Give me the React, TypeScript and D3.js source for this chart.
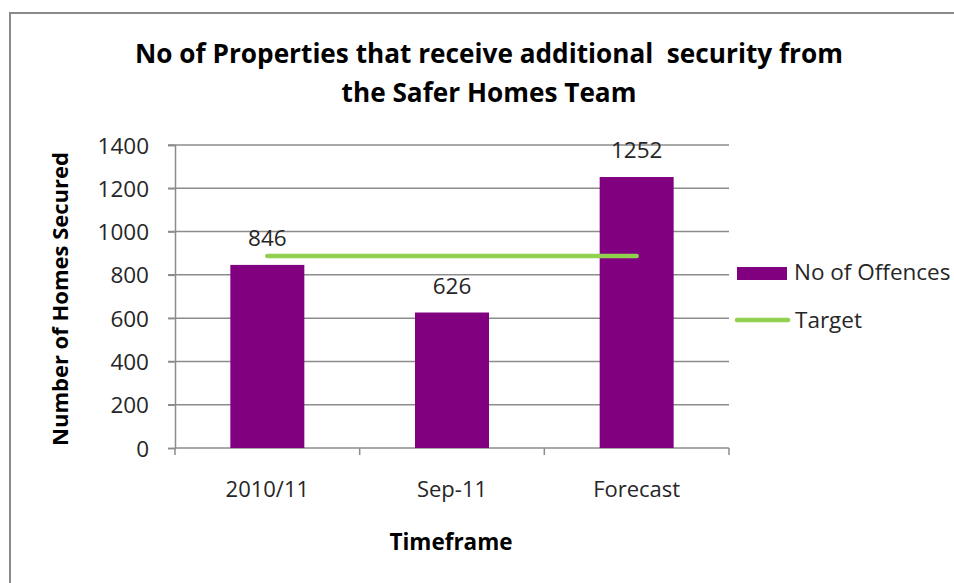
import React, { useEffect, useRef } from 'react';
import * as d3 from 'd3';

// chart data
const categories = ['2010/11', 'Sep-11', 'Forecast'];
const offences = [846, 626, 1252];
const target = [887, 887, 887];
const yTicks = [0, 200, 400, 600, 800, 1000, 1200, 1400];

const FONT = '"Open Sans", sans-serif';

const App = () => {
  const ref = useRef<SVGSVGElement>(null);

  useEffect(() => {
    const root = d3.select(ref.current);
    root.selectAll('*').remove();

    const plot = { left: 175, right: 729, top: 145, bottom: 448 };

    // outer chart border
    root
      .append('rect')
      .attr('x', 10)
      .attr('y', 13)
      .attr('width', 960)
      .attr('height', 600)
      .attr('fill', 'white')
      .attr('stroke', '#8a8a8a')
      .attr('stroke-width', 2);

    const x = d3.scaleBand().domain(categories).range([plot.left, plot.right]);
    const y = d3.scaleLinear().domain([0, 1400]).range([plot.bottom, plot.top]);

    // gridlines
    root
      .append('g')
      .selectAll('line')
      .data(yTicks.filter(d => d > 0))
      .enter()
      .append('line')
      .attr('x1', plot.left - 7)
      .attr('x2', plot.right)
      .attr('y1', d => y(d))
      .attr('y2', d => y(d))
      .attr('stroke', '#8c8c8c')
      .attr('stroke-width', 1.5);

    // y axis
    const yAxis = root
      .append('g')
      .attr('transform', `translate(${plot.left},0)`)
      .call(d3.axisLeft(y).tickValues(yTicks).tickFormat(d3.format('d')).tickSize(7));
    yAxis.select('.domain').attr('stroke', '#8c8c8c').attr('stroke-width', 1.5);
    yAxis.selectAll('.tick line').attr('stroke', '#8c8c8c').attr('stroke-width', 1.5);
    yAxis
      .selectAll('.tick text')
      .attr('font-family', FONT)
      .attr('font-size', 22.5)
      .attr('fill', '#262626')
      .attr('x', -26)
      .attr('dy', '0.36em');

    // x axis, ticks between categories
    const xg = root.append('g');
    xg.append('line')
      .attr('x1', plot.left)
      .attr('x2', plot.right)
      .attr('y1', plot.bottom)
      .attr('y2', plot.bottom)
      .attr('stroke', '#8c8c8c')
      .attr('stroke-width', 1.5);
    const boundaries = categories.map(c => x(c) as number).concat([plot.right]);
    xg.selectAll('.xtick')
      .data(boundaries)
      .enter()
      .append('line')
      .attr('x1', d => d)
      .attr('x2', d => d)
      .attr('y1', plot.bottom)
      .attr('y2', plot.bottom + 7)
      .attr('stroke', '#8c8c8c')
      .attr('stroke-width', 1.5);
    xg.selectAll('.xlabel')
      .data(categories)
      .enter()
      .append('text')
      .attr('x', d => (x(d) as number) + x.bandwidth() / 2)
      .attr('y', 497)
      .attr('text-anchor', 'middle')
      .attr('font-family', FONT)
      .attr('font-size', 22)
      .attr('fill', '#262626')
      .text(d => d);

    // bars
    const barW = 74;
    root
      .selectAll('.bar')
      .data(offences)
      .enter()
      .append('rect')
      .attr('class', 'bar')
      .attr('x', (d, i) => (x(categories[i]) as number) + x.bandwidth() / 2 - barW / 2)
      .attr('y', d => y(d))
      .attr('width', barW)
      .attr('height', d => plot.bottom - y(d))
      .attr('fill', '#800080');

    // target line
    const line = d3
      .line<number>()
      .x((d, i) => (x(categories[i]) as number) + x.bandwidth() / 2)
      .y(d => y(d));
    root
      .append('path')
      .datum(target)
      .attr('d', line)
      .attr('fill', 'none')
      .attr('stroke', '#92d050')
      .attr('stroke-width', 4.5)
      .attr('stroke-linecap', 'round');

    // value labels
    root
      .selectAll('.label')
      .data(offences)
      .enter()
      .append('text')
      .attr('x', (d, i) => (x(categories[i]) as number) + x.bandwidth() / 2)
      .attr('y', d => y(d) - 19)
      .attr('text-anchor', 'middle')
      .attr('font-family', FONT)
      .attr('font-size', 22.5)
      .attr('fill', '#262626')
      .text(d => d);

    // title
    const title = root
      .append('text')
      .attr('text-anchor', 'middle')
      .attr('font-family', FONT)
      .attr('font-weight', 'bold')
      .attr('font-size', 26.2)
      .attr('fill', '#000')
      .attr('xml:space', 'preserve');
    title.append('tspan').attr('x', 489).attr('y', 63).text('No of Properties that receive additional  security from');
    title.append('tspan').attr('x', 489).attr('y', 102).text('the Safer Homes Team');

    // axis titles
    root
      .append('text')
      .attr('transform', `translate(68,299) rotate(-90)`)
      .attr('text-anchor', 'middle')
      .attr('font-family', FONT)
      .attr('font-weight', 'bold')
      .attr('font-size', 22)
      .attr('fill', '#000')
      .text('Number of Homes Secured');

    root
      .append('text')
      .attr('x', 451)
      .attr('y', 550)
      .attr('text-anchor', 'middle')
      .attr('font-family', FONT)
      .attr('font-weight', 'bold')
      .attr('font-size', 22.5)
      .attr('fill', '#000')
      .text('Timeframe');

    // legend
    const legend = root.append('g');
    legend
      .append('rect')
      .attr('x', 737)
      .attr('y', 267)
      .attr('width', 50)
      .attr('height', 13)
      .attr('fill', '#800080');
    legend
      .append('text')
      .attr('x', 794)
      .attr('y', 280)
      .attr('font-family', FONT)
      .attr('font-size', 22.5)
      .attr('fill', '#262626')
      .text('No of Offences');
    legend
      .append('line')
      .attr('x1', 737)
      .attr('x2', 788)
      .attr('y1', 320)
      .attr('y2', 320)
      .attr('stroke', '#92d050')
      .attr('stroke-width', 4.5)
      .attr('stroke-linecap', 'round');
    legend
      .append('text')
      .attr('x', 795)
      .attr('y', 328)
      .attr('font-family', FONT)
      .attr('font-size', 22.5)
      .attr('fill', '#262626')
      .text('Target');
  }, []);

  return (
    <svg
      ref={ref}
      width={954}
      height={583}
      style={{ position: 'absolute', left: 0, top: 0 }}
    ></svg>
  );
};

export default App;
